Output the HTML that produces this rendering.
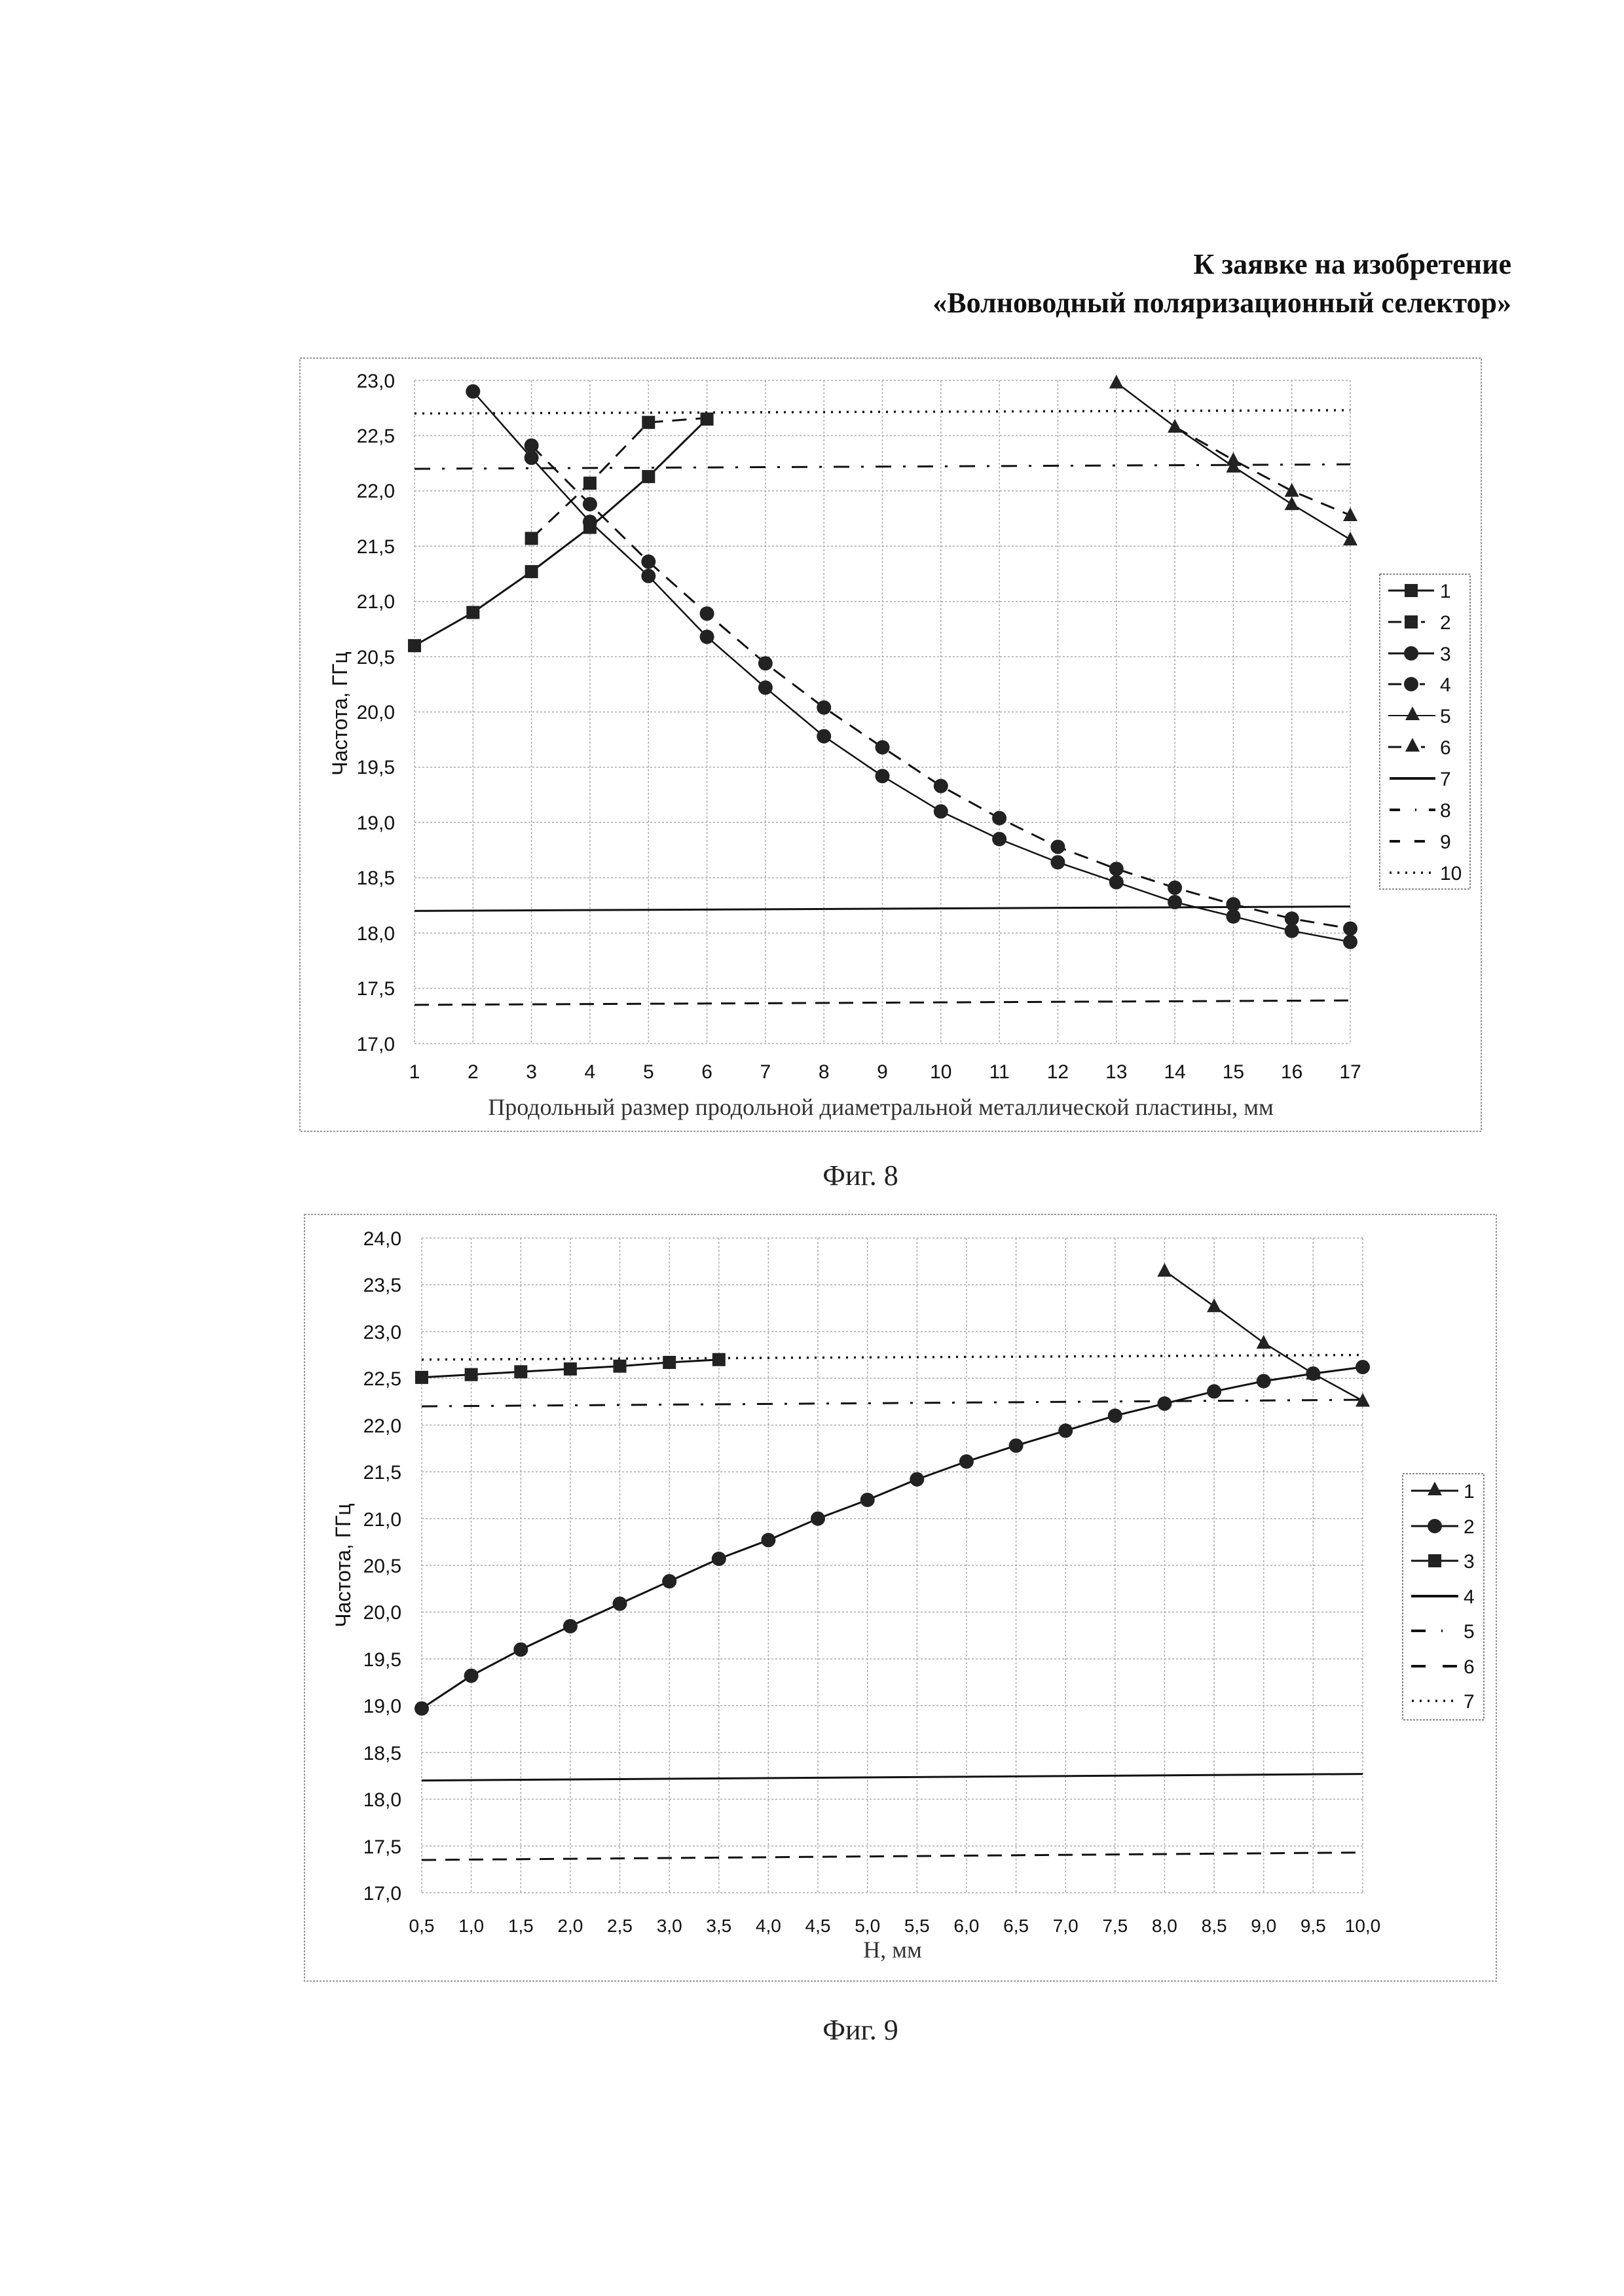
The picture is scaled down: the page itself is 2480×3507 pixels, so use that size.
<!DOCTYPE html>
<html><head><meta charset="utf-8"><style>
html,body{margin:0;padding:0;background:#fff}
svg{display:block}
</style></head><body>
<svg width="2480" height="3507" viewBox="0 0 2480 3507" xmlns="http://www.w3.org/2000/svg" font-family="Liberation Sans, sans-serif">
<defs>
<circle id="c" r="11" fill="#222"/>
<rect id="s" x="-10" y="-10" width="20" height="20" fill="#222"/>
<polygon id="t" points="0,-12 11,9 -11,9" fill="#222"/>
</defs>
<rect width="2480" height="3507" fill="#fff"/>
<g font-family="Liberation Serif, serif" font-weight="bold" font-size="44" fill="#111" text-anchor="end">
<text x="2308" y="418">К заявке на изобретение</text>
<text x="2308" y="477">«Волноводный поляризационный селектор»</text>
</g>

<!-- CHART 1 -->
<rect x="458" y="547" width="1804" height="1181" fill="none" stroke="#999" stroke-width="2" stroke-dasharray="3 2"/>
<g stroke="#aaa" stroke-width="1.5" stroke-dasharray="3 3" fill="none">
<path d="M633 581H2062M633 665.4H2062M633 749.8H2062M633 834.2H2062M633 918.7H2062M633 1003.1H2062M633 1087.5H2062M633 1171.9H2062M633 1256.3H2062M633 1340.7H2062M633 1425.2H2062M633 1509.6H2062M633 1594H2062"/>
<path d="M633 581V1594M722.3 581V1594M811.6 581V1594M900.9 581V1594M990.3 581V1594M1079.6 581V1594M1168.9 581V1594M1258.2 581V1594M1347.5 581V1594M1436.8 581V1594M1526.1 581V1594M1615.4 581V1594M1704.8 581V1594M1794.1 581V1594M1883.4 581V1594M1972.7 581V1594M2062 581V1594"/>
</g>
<g font-size="30" fill="#111" text-anchor="end">
<text x="603" y="592">23,0</text><text x="603" y="676">22,5</text><text x="603" y="760">22,0</text><text x="603" y="845">21,5</text><text x="603" y="929">21,0</text><text x="603" y="1014">20,5</text><text x="603" y="1098">20,0</text><text x="603" y="1182">19,5</text><text x="603" y="1267">19,0</text><text x="603" y="1351">18,5</text><text x="603" y="1436">18,0</text><text x="603" y="1520">17,5</text><text x="603" y="1605">17,0</text>
</g>
<g font-size="30" fill="#111" text-anchor="middle">
<text x="633" y="1647">1</text><text x="722.3" y="1647">2</text><text x="811.6" y="1647">3</text><text x="900.9" y="1647">4</text><text x="990.3" y="1647">5</text><text x="1079.6" y="1647">6</text><text x="1168.9" y="1647">7</text><text x="1258.2" y="1647">8</text><text x="1347.5" y="1647">9</text><text x="1436.8" y="1647">10</text><text x="1526.1" y="1647">11</text><text x="1615.4" y="1647">12</text><text x="1704.8" y="1647">13</text><text x="1794.1" y="1647">14</text><text x="1883.4" y="1647">15</text><text x="1972.7" y="1647">16</text><text x="2062" y="1647">17</text>
</g>
<text x="1345" y="1703" font-family="Liberation Serif, serif" font-size="36" fill="#333" text-anchor="middle">Продольный размер продольной диаметральной металлической пластины, мм</text>
<text transform="translate(530,1090) rotate(-90)" font-size="32" fill="#111" text-anchor="middle">Частота, ГГц</text>
<g fill="none" stroke="#111" stroke-width="3">
<polyline points="633,1391.4 2062,1384.6"/>
<polyline points="633,716.1 2062,709.3" stroke-dasharray="24 18 4 18"/>
<polyline points="633,1534.9 2062,1528.1" stroke-dasharray="22 14"/>
<polyline points="633,631.6 2062,626.6" stroke-dasharray="3 9" stroke-width="3.5"/>
<polyline points="633,986.2 722.3,935.5 811.6,873.1 900.9,805.5 990.3,727.9 1079.6,640.1"/>
<polyline points="811.6,822.4 900.9,738 990.3,645.2 1079.6,638.4" stroke-dasharray="22 14"/>
<polyline points="722.3,597.9 811.6,699.2 900.9,797.1 990.3,879.8 1079.6,972.7 1168.9,1050.3 1258.2,1124.6 1347.5,1185.4 1436.8,1239.4 1526.1,1281.6 1615.4,1317.1 1704.8,1347.5 1794.1,1377.9 1883.4,1399.8 1972.7,1421.8 2062,1438.7" stroke-width="2.5"/>
<polyline points="811.6,680.6 900.9,770.1 990.3,857.9 1079.6,937.2 1168.9,1013.2 1258.2,1080.7 1347.5,1141.5 1436.8,1200.6 1526.1,1249.6 1615.4,1293.5 1704.8,1327.2 1794.1,1355.9 1883.4,1381.3 1972.7,1403.2 2062,1418.4" stroke-dasharray="22 14"/>
<polyline points="1704.8,584.4 1794.1,651.9 1883.4,712.7 1972.7,770.1 2062,824.1" stroke-width="2.5"/>
<polyline points="1794.1,651.9 1883.4,702.6 1972.7,749.8 2062,787" stroke-dasharray="22 14"/>
</g>
<g>
<use href="#s" x="633" y="986.2"/><use href="#s" x="722.3" y="935.5"/><use href="#s" x="811.6" y="873.1"/><use href="#s" x="900.9" y="805.5"/><use href="#s" x="990.3" y="727.9"/><use href="#s" x="1079.6" y="640.1"/>
<use href="#s" x="811.6" y="822.4"/><use href="#s" x="900.9" y="738"/><use href="#s" x="990.3" y="645.2"/>
<use href="#c" x="722.3" y="597.9"/><use href="#c" x="811.6" y="699.2"/><use href="#c" x="900.9" y="797.1"/><use href="#c" x="990.3" y="879.8"/><use href="#c" x="1079.6" y="972.7"/><use href="#c" x="1168.9" y="1050.3"/><use href="#c" x="1258.2" y="1124.6"/><use href="#c" x="1347.5" y="1185.4"/><use href="#c" x="1436.8" y="1239.4"/><use href="#c" x="1526.1" y="1281.6"/><use href="#c" x="1615.4" y="1317.1"/><use href="#c" x="1704.8" y="1347.5"/><use href="#c" x="1794.1" y="1377.9"/><use href="#c" x="1883.4" y="1399.8"/><use href="#c" x="1972.7" y="1421.8"/><use href="#c" x="2062" y="1438.7"/>
<use href="#c" x="811.6" y="680.6"/><use href="#c" x="900.9" y="770.1"/><use href="#c" x="990.3" y="857.9"/><use href="#c" x="1079.6" y="937.2"/><use href="#c" x="1168.9" y="1013.2"/><use href="#c" x="1258.2" y="1080.7"/><use href="#c" x="1347.5" y="1141.5"/><use href="#c" x="1436.8" y="1200.6"/><use href="#c" x="1526.1" y="1249.6"/><use href="#c" x="1615.4" y="1293.5"/><use href="#c" x="1704.8" y="1327.2"/><use href="#c" x="1794.1" y="1355.9"/><use href="#c" x="1883.4" y="1381.3"/><use href="#c" x="1972.7" y="1403.2"/><use href="#c" x="2062" y="1418.4"/>
<use href="#t" x="1704.8" y="584.4"/><use href="#t" x="1794.1" y="651.9"/><use href="#t" x="1883.4" y="712.7"/><use href="#t" x="1972.7" y="770.1"/><use href="#t" x="2062" y="824.1"/>
<use href="#t" x="1883.4" y="702.6"/><use href="#t" x="1972.7" y="749.8"/><use href="#t" x="2062" y="787"/>
</g>
<!-- legend 1 -->
<rect x="2107" y="877" width="138" height="481" fill="#fff" stroke="#888" stroke-width="2" stroke-dasharray="3 2"/>
<g stroke="#111" stroke-width="3" fill="none">
<path d="M2120 902H2190"/><path d="M2120 950H2140M2170 950H2176"/><path d="M2120 998H2190"/><path d="M2120 1045H2140M2168 1045H2176"/><path d="M2120 1093H2192" stroke-width="2"/><path d="M2120 1141H2140M2170 1141H2176"/><path d="M2122 1189H2192" stroke-width="4"/><path d="M2122 1237H2138M2161 1237H2163M2182 1237H2192" stroke-width="4"/><path d="M2122 1285H2138M2160 1285H2176" stroke-width="4"/><path d="M2122 1333H2188" stroke-dasharray="3 9" stroke-width="3.5"/>
</g>
<use href="#s" x="2155" y="902"/><use href="#s" x="2155" y="950"/><use href="#c" x="2155" y="998"/><use href="#c" x="2155" y="1045"/><use href="#t" x="2157" y="1091"/><use href="#t" x="2157" y="1139"/>
<g font-size="30" fill="#111">
<text x="2199" y="913">1</text><text x="2199" y="961">2</text><text x="2199" y="1009">3</text><text x="2199" y="1056">4</text><text x="2199" y="1104">5</text><text x="2199" y="1152">6</text><text x="2199" y="1200">7</text><text x="2199" y="1248">8</text><text x="2199" y="1296">9</text><text x="2199" y="1344">10</text>
</g>
<text x="1314" y="1810" font-family="Liberation Serif, serif" font-size="44" fill="#222" text-anchor="middle">Фиг. 8</text>

<!-- CHART 2 -->
<rect x="465" y="1855" width="1820" height="1171" fill="none" stroke="#999" stroke-width="2" stroke-dasharray="3 2"/>
<g stroke="#aaa" stroke-width="1.5" stroke-dasharray="3 3" fill="none">
<path d="M644 1891H2081M644 1962.4H2081M644 2033.9H2081M644 2105.3H2081M644 2176.7H2081M644 2248.1H2081M644 2319.6H2081M644 2391H2081M644 2462.4H2081M644 2533.9H2081M644 2605.3H2081M644 2676.7H2081M644 2748.1H2081M644 2819.6H2081M644 2891H2081"/>
<path d="M644 1891V2891M719.6 1891V2891M795.3 1891V2891M870.9 1891V2891M946.5 1891V2891M1022.2 1891V2891M1097.8 1891V2891M1173.4 1891V2891M1249 1891V2891M1324.7 1891V2891M1400.3 1891V2891M1475.9 1891V2891M1551.6 1891V2891M1627.2 1891V2891M1702.8 1891V2891M1778.4 1891V2891M1854.1 1891V2891M1929.7 1891V2891M2005.3 1891V2891M2081 1891V2891"/>
</g>
<g font-size="30" fill="#111" text-anchor="end">
<text x="613" y="1902">24,0</text><text x="613" y="1973">23,5</text><text x="613" y="2045">23,0</text><text x="613" y="2116">22,5</text><text x="613" y="2188">22,0</text><text x="613" y="2259">21,5</text><text x="613" y="2331">21,0</text><text x="613" y="2402">20,5</text><text x="613" y="2473">20,0</text><text x="613" y="2545">19,5</text><text x="613" y="2616">19,0</text><text x="613" y="2688">18,5</text><text x="613" y="2759">18,0</text><text x="613" y="2831">17,5</text><text x="613" y="2902">17,0</text>
</g>
<g font-size="28" fill="#111" text-anchor="middle">
<text x="644" y="2951">0,5</text><text x="719.6" y="2951">1,0</text><text x="795.3" y="2951">1,5</text><text x="870.9" y="2951">2,0</text><text x="946.5" y="2951">2,5</text><text x="1022.2" y="2951">3,0</text><text x="1097.8" y="2951">3,5</text><text x="1173.4" y="2951">4,0</text><text x="1249" y="2951">4,5</text><text x="1324.7" y="2951">5,0</text><text x="1400.3" y="2951">5,5</text><text x="1475.9" y="2951">6,0</text><text x="1551.6" y="2951">6,5</text><text x="1627.2" y="2951">7,0</text><text x="1702.8" y="2951">7,5</text><text x="1778.4" y="2951">8,0</text><text x="1854.1" y="2951">8,5</text><text x="1929.7" y="2951">9,0</text><text x="2005.3" y="2951">9,5</text><text x="2081" y="2951">10,0</text>
</g>
<text x="1363" y="2990" font-family="Liberation Serif, serif" font-size="36" fill="#333" text-anchor="middle">Н, мм</text>
<text transform="translate(535,2391) rotate(-90)" font-size="32" fill="#111" text-anchor="middle">Частота, ГГц</text>
<g fill="none" stroke="#111" stroke-width="3">
<polyline points="644,2719.6 2081,2709.6"/>
<polyline points="644,2148.1 2081,2138.1" stroke-dasharray="24 18 4 18"/>
<polyline points="644,2841 2081,2829.6" stroke-dasharray="22 14"/>
<polyline points="644,2076.7 2081,2069.6" stroke-dasharray="3 9" stroke-width="3.5"/>
<polyline points="1778.4,1941 1854.1,1995.3 1929.7,2051 2005.3,2098.1 2081,2139.6" stroke-width="2.5"/>
<polyline points="644,2609.6 719.6,2559.6 795.3,2519.6 870.9,2483.9 946.5,2449.6 1022.2,2415.3 1097.8,2381 1173.4,2352.4 1249,2319.6 1324.7,2291 1400.3,2259.6 1475.9,2232.4 1551.6,2208.1 1627.2,2185.3 1702.8,2162.4 1778.4,2143.9 1854.1,2125.3 1929.7,2109.6 2005.3,2098.1 2081,2088.1"/>
<polyline points="644,2103.9 719.6,2099.6 795.3,2095.3 870.9,2091 946.5,2086.7 1022.2,2081 1097.8,2076.7"/>
</g>
<g>
<use href="#t" x="1778.4" y="1941"/><use href="#t" x="1854.1" y="1995.3"/><use href="#t" x="1929.7" y="2051"/><use href="#t" x="2005.3" y="2098.1"/><use href="#t" x="2081" y="2139.6"/>
<use href="#c" x="644" y="2609.6"/><use href="#c" x="719.6" y="2559.6"/><use href="#c" x="795.3" y="2519.6"/><use href="#c" x="870.9" y="2483.9"/><use href="#c" x="946.5" y="2449.6"/><use href="#c" x="1022.2" y="2415.3"/><use href="#c" x="1097.8" y="2381"/><use href="#c" x="1173.4" y="2352.4"/><use href="#c" x="1249" y="2319.6"/><use href="#c" x="1324.7" y="2291"/><use href="#c" x="1400.3" y="2259.6"/><use href="#c" x="1475.9" y="2232.4"/><use href="#c" x="1551.6" y="2208.1"/><use href="#c" x="1627.2" y="2185.3"/><use href="#c" x="1702.8" y="2162.4"/><use href="#c" x="1778.4" y="2143.9"/><use href="#c" x="1854.1" y="2125.3"/><use href="#c" x="1929.7" y="2109.6"/><use href="#c" x="2005.3" y="2098.1"/><use href="#c" x="2081" y="2088.1"/>
<use href="#s" x="644" y="2103.9"/><use href="#s" x="719.6" y="2099.6"/><use href="#s" x="795.3" y="2095.3"/><use href="#s" x="870.9" y="2091"/><use href="#s" x="946.5" y="2086.7"/><use href="#s" x="1022.2" y="2081"/><use href="#s" x="1097.8" y="2076.7"/>
</g>
<!-- legend 2 -->
<rect x="2142" y="2251" width="124" height="376" fill="#fff" stroke="#888" stroke-width="2" stroke-dasharray="3 2"/>
<g stroke="#111" stroke-width="3" fill="none">
<path d="M2155 2277H2227"/><path d="M2155 2331H2227"/><path d="M2155 2384H2227"/><path d="M2155 2438H2227" stroke-width="4"/><path d="M2155 2491H2177M2201 2491H2203" stroke-width="4"/><path d="M2155 2545H2177M2203 2545H2225" stroke-width="4"/><path d="M2156 2598H2226" stroke-dasharray="3 9" stroke-width="3.5"/>
</g>
<use href="#t" x="2191" y="2275"/><use href="#c" x="2191" y="2331"/><use href="#s" x="2191" y="2384"/>
<g font-size="30" fill="#111">
<text x="2235" y="2288">1</text><text x="2235" y="2342">2</text><text x="2235" y="2395">3</text><text x="2235" y="2449">4</text><text x="2235" y="2502">5</text><text x="2235" y="2556">6</text><text x="2235" y="2609">7</text>
</g>
<text x="1314" y="3115" font-family="Liberation Serif, serif" font-size="44" fill="#222" text-anchor="middle">Фиг. 9</text>
</svg>
</body></html>
